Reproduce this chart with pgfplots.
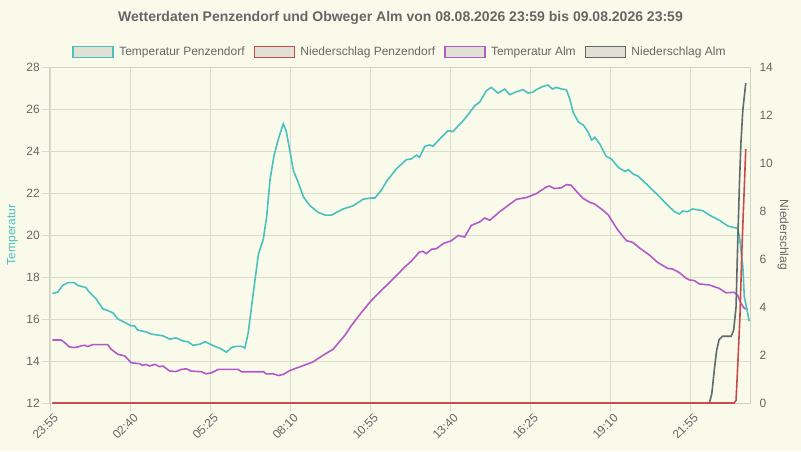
\documentclass[border=0pt]{standalone}
\usepackage{fontspec}
\setmainfont{Liberation Sans}
\usepackage{pgfplots}
\pgfplotsset{compat=1.18}
\usepackage{pgfplotstable}
\definecolor{bg}{HTML}{FAFAEB}
\definecolor{gridc}{HTML}{DCDCCB}
\definecolor{axisc}{HTML}{D2D2C2}
\definecolor{txt}{HTML}{666666}
\definecolor{cyanc}{HTML}{4BC0C0}
\definecolor{redc}{HTML}{C84B4B}
\definecolor{purc}{HTML}{B45AC8}
\definecolor{greyc}{HTML}{5F6B6B}
\definecolor{legfill}{HTML}{E0E0D4}

% x = minutes after 08.08. 23:55
\pgfplotstableread{
m T
5 17.22
16 17.28
26 17.6
37 17.73
50 17.73
57 17.6
74 17.5
81 17.28
95 16.96
109 16.48
119 16.4
130 16.29
140 16.0
154 15.84
167 15.68
174 15.68
181 15.47
198 15.39
209 15.28
233 15.2
247 15.04
260 15.1
274 14.96
285 14.91
295 14.75
309 14.8
320 14.92
337 14.73
351 14.6
364 14.42
375 14.65
385 14.7
395 14.7
402 14.62
409 15.37
416 16.63
423 17.9
430 19.1
440 19.8
447 20.9
454 22.67
462 23.78
471 24.57
481 25.29
487 24.97
494 24.1
502 23.06
512 22.5
523 21.8
536 21.4
553 21.08
567 20.95
581 20.95
591 21.08
605 21.24
626 21.4
646 21.71
663 21.76
670 21.76
684 22.15
694 22.55
714 23.14
735 23.59
745 23.62
756 23.8
762 23.7
773 24.22
783 24.29
790 24.22
807 24.65
821 24.97
831 24.92
842 25.2
852 25.44
866 25.84
876 26.16
886 26.32
900 26.87
910 27.03
924 26.76
938 26.95
948 26.68
962 26.82
976 26.92
986 26.76
996 26.8
1003 26.92
1017 27.08
1027 27.14
1036 26.95
1044 27.03
1055 26.95
1065 26.92
1072 26.48
1079 25.84
1090 25.37
1100 25.24
1110 24.89
1117 24.52
1124 24.65
1134 24.33
1147 23.75
1158 23.62
1172 23.22
1186 23.03
1193 23.11
1203 22.9
1213 22.8
1236 22.3
1257 21.82
1277 21.35
1288 21.11
1298 21.0
1305 21.14
1315 21.11
1325 21.24
1346 21.16
1360 20.95
1380 20.71
1398 20.43
1408 20.37
1418 20.32
1422 19.92
1429 18.49
1432 17.06
1439 16.27
1442 15.9
}\tempPenz

\pgfplotstableread{
m T
5 15.0
23 15.0
30 14.88
40 14.67
50 14.64
57 14.67
64 14.72
71 14.75
78 14.69
88 14.78
119 14.78
126 14.56
140 14.32
154 14.24
161 14.08
167 13.92
185 13.87
191 13.79
198 13.84
205 13.76
216 13.84
226 13.73
233 13.76
247 13.52
260 13.5
271 13.6
281 13.63
291 13.52
312 13.49
322 13.39
333 13.44
347 13.6
388 13.6
395 13.49
440 13.49
446 13.39
460 13.39
471 13.31
481 13.36
495 13.55
515 13.72
542 13.95
563 14.27
584 14.56
608 15.22
622 15.7
643 16.33
663 16.89
687 17.44
708 17.92
732 18.48
745 18.75
762 19.19
769 19.22
776 19.11
787 19.32
797 19.35
811 19.59
828 19.73
842 19.98
855 19.9
869 20.46
886 20.62
897 20.81
907 20.7
927 21.1
945 21.41
962 21.7
982 21.78
1003 21.97
1024 22.29
1030 22.33
1041 22.21
1055 22.25
1065 22.4
1075 22.37
1085 22.1
1099 21.75
1113 21.56
1123 21.48
1137 21.24
1151 20.97
1161 20.6
1171 20.24
1189 19.73
1202 19.65
1216 19.38
1236 19.05
1253 18.7
1274 18.41
1284 18.38
1298 18.21
1312 17.94
1319 17.86
1329 17.83
1339 17.67
1360 17.62
1380 17.46
1394 17.25
1411 17.27
1418 17.14
1425 16.75
1432 16.51
1439 16.46
}\tempAlm

\pgfplotstableread{
m N
5 0
1360 0
1365 0.39
1370 1.36
1375 2.2
1380 2.64
1387 2.78
1405 2.78
1410 3.03
1415 4.0
1418 6.37
1422 9.16
1425 10.83
1429 12.22
1435 13.33
}\rainAlm

\pgfplotstableread{
m N
5 0
1411 0
1415 0.11
1418 1.36
1423 3.59
1427 6.37
1431 8.46
1435 10.58
}\rainPenz

\begin{document}
\begin{tikzpicture}
\useasboundingbox (0pt,0pt) rectangle (801pt,451pt);
\fill[bg] (0pt,0pt) rectangle (801pt,451pt);
\node[font=\bfseries\fontsize{14}{16}\selectfont, text=txt] at (400.5pt,433.5pt)
  {Wetterdaten Penzendorf und Obweger Alm von 08.08.2026 23:59 bis 09.08.2026 23:59};

\begin{axis}[
  at={(50pt,48pt)}, anchor=south west,
  scale only axis, width=700pt, height=336pt,
  xmin=0, xmax=1443.75, ymin=12, ymax=28,
  xtick={0,165,330,495,660,825,990,1155,1320},
  xticklabels={23:55,02:40,05:25,08:10,10:55,13:40,16:25,19:10,21:55},
  ytick={12,14,...,28},
  tick pos=left,
  tick align=outside, major tick length=8pt,
  tick style={gridc, line width=0.8pt},
  grid=major, grid style={gridc, line width=0.8pt},
  axis line style={axisc, line width=1pt},
  /pgf/number format/assume math mode=true,
  ticklabel style={font=\fontsize{12}{14}\selectfont, text=txt},
  xticklabel style={rotate=45, anchor=north east, inner sep=1pt, xshift=2pt, yshift=-2pt},
  yticklabel style={inner sep=2pt},
  ylabel={Temperatur},
  ylabel style={font=\fontsize{12}{14}\selectfont, text=cyanc, yshift=3pt},
  legend columns=4,
  legend image code/.code={\draw[#1, fill=legfill, line width=1.3pt] (0pt,-5.5pt) rectangle (40pt,5.5pt);},
  legend style={at={(0.5,1.0446)}, anchor=center, draw=none, fill=none,
    font=\fontsize{12}{14}\selectfont, text=txt, inner sep=0pt,
    /tikz/every odd column/.append style={column sep=3.5pt},
    /tikz/every even column/.append style={column sep=7pt}},
  legend cell align=left,
]
\addlegendimage{draw=cyanc}
\addlegendimage{draw=redc}
\addlegendimage{draw=purc}
\addlegendimage{draw=greyc}
\addplot[purc, line width=1.6pt, forget plot] table[x=m, y=T] {\tempAlm};
\addplot[cyanc, line width=1.6pt, forget plot] table[x=m, y=T] {\tempPenz};
\legend{Temperatur Penzendorf, Niederschlag Penzendorf, Temperatur Alm, Niederschlag Alm}
\end{axis}

\begin{axis}[
  at={(50pt,48pt)}, anchor=south west,
  scale only axis, width=700pt, height=336pt,
  xmin=0, xmax=1443.75, ymin=0, ymax=14,
  axis x line=none, axis y line*=right,
  axis line style={axisc, line width=1pt},
  ytick={0,2,...,14},
  ytick style={draw=none},
  /pgf/number format/assume math mode=true,
  ticklabel style={font=\fontsize{12}{14}\selectfont, text=txt},
  yticklabel style={xshift=6pt},
  ylabel={Niederschlag},
  ylabel style={font=\fontsize{12}{14}\selectfont, text=txt, rotate=180, yshift=-2pt},
  clip=false,
]
\addplot[greyc, line width=1.6pt] table[x=m, y=N] {\rainAlm};
\addplot[redc, line width=1.6pt] table[x=m, y=N] {\rainPenz};
\end{axis}
\end{tikzpicture}
\end{document}
